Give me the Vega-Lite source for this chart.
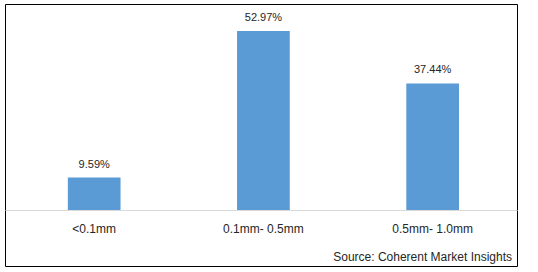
{
  "$schema": "https://vega.github.io/schema/vega-lite/v6.json",
  "autosize": "none",
  "width": 512,
  "height": 262,
  "padding": {"left": 5, "top": 4, "right": 21, "bottom": 6},
  "background": "white",
  "config": {
    "view": {"stroke": "black", "strokeWidth": 1},
    "font": "Liberation Sans"
  },
  "title": {
    "text": "Source: Coherent Market Insights",
    "orient": "bottom",
    "anchor": "end",
    "offset": -14,
    "dx": -5,
    "fontSize": 12,
    "fontWeight": "normal",
    "color": "#262626",
    "font": "Liberation Sans"
  },
  "data": {
    "values": [
      {"size": "<0.1mm", "share": 9.59, "label": "9.59%"},
      {"size": "0.1mm- 0.5mm", "share": 52.97, "label": "52.97%"},
      {"size": "0.5mm- 1.0mm", "share": 37.44, "label": "37.44%"}
    ]
  },
  "encoding": {
    "x": {
      "field": "size",
      "type": "nominal",
      "sort": null,
      "scale": {"paddingInner": 0.6885, "paddingOuter": 0.357, "align": 0.52},
      "axis": {
        "title": null,
        "orient": "bottom",
        "offset": -56,
        "domain": true,
        "domainColor": "#d9d9d9",
        "ticks": false,
        "labelPadding": 18,
        "labelBaseline": "middle",
        "labelAngle": 0,
        "labelFontSize": 12,
        "labelColor": "#262626",
        "labelFont": "Liberation Sans"
      }
    },
    "y": {
      "field": "share",
      "type": "quantitative",
      "scale": {"domain": [-16.57, 60.96], "nice": false, "zero": false},
      "axis": null
    }
  },
  "layer": [
    {
      "mark": {"type": "bar", "color": "#5B9BD5"}
    },
    {
      "mark": {"type": "text", "dy": -10, "baseline": "alphabetic", "fontSize": 11, "color": "#262626", "font": "Liberation Sans"},
      "encoding": {
        "text": {"field": "label"}
      }
    }
  ]
}
